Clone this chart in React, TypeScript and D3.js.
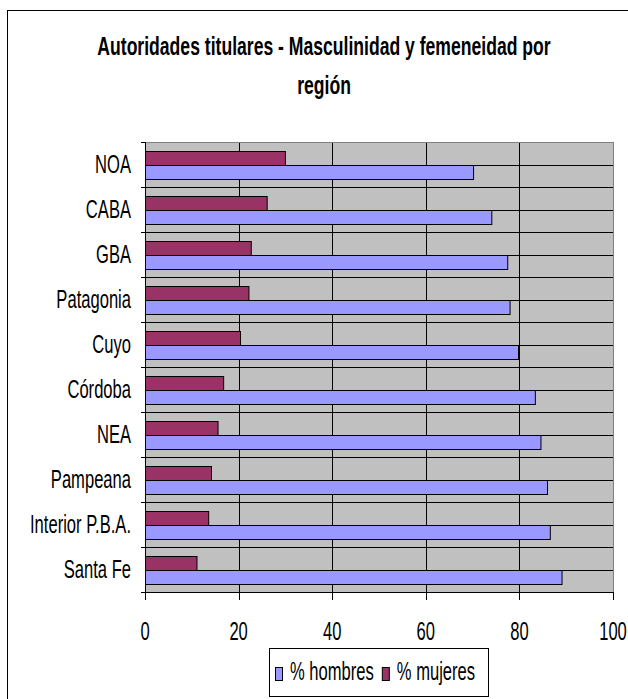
import * as React from 'react'
import * as d3 from 'd3'

const regions = [
  'NOA',
  'CABA',
  'GBA',
  'Patagonia',
  'Cuyo',
  'Córdoba',
  'NEA',
  'Pampeana',
  'Interior P.B.A.',
  'Santa Fe'
]
const hombres = [70.1, 74.0, 77.4, 77.9, 79.7, 83.3, 84.5, 85.9, 86.5, 89.0]
const mujeres = [29.9, 26.0, 22.6, 22.1, 20.3, 16.7, 15.5, 14.1, 13.5, 11.0]
const xTicks = [0, 20, 40, 60, 80, 100]
const seriesNames = ['% hombres', '% mujeres']
const seriesColors = ['#9999FF', '#993366']
const titleLines = [
  'Autoridades titulares - Masculinidad y femeneidad por',
  'región'
]

const WIDTH = 628
const HEIGHT = 699
const PLOT_LEFT = 145
const PLOT_RIGHT = 613
const PLOT_TOP = 142
const PLOT_BOTTOM = 592
const FONT = 'Liberation Sans, Arial, sans-serif'
const FONT_SIZE = 25.5
// the original text looks squeezed sideways
const TEXT_SX = 0.65
const TITLE_SX = 0.69

function drawChart(svgRef: React.RefObject<SVGSVGElement>) {
  const svg = d3.select(svgRef.current)
  svg.selectAll('*').remove()

  const x = d3.scaleLinear().domain([0, 100]).range([PLOT_LEFT, PLOT_RIGHT])
  const y = d3
    .scaleBand<string>()
    .domain(regions)
    .range([PLOT_TOP, PLOT_BOTTOM])
    .paddingInner(0)
    .paddingOuter(0)
  // excel draws the series reversed inside each category
  const inner = d3
    .scaleBand<string>()
    .domain([seriesNames[1], seriesNames[0]])
    .range([0, y.bandwidth()])
    .paddingInner(0)
    .paddingOuter(2 / 3)

  // outer frame (runs off the right / bottom of the picture)
  svg
    .append('rect')
    .attr('x', 7.5)
    .attr('y', 10.5)
    .attr('width', 700)
    .attr('height', 700)
    .attr('fill', '#fff')
    .attr('stroke', '#000')

  // title
  svg
    .append('g')
    .selectAll('text')
    .data(titleLines)
    .join('text')
    .attr('transform', (d, i) => `translate(324,${55 + i * 39}) scale(${TITLE_SX},1)`)
    .attr('text-anchor', 'middle')
    .attr('font-family', FONT)
    .attr('font-weight', 'bold')
    .attr('font-size', FONT_SIZE)
    .text(d => d)

  // plot area
  svg
    .append('rect')
    .attr('x', PLOT_LEFT)
    .attr('y', PLOT_TOP)
    .attr('width', PLOT_RIGHT - PLOT_LEFT)
    .attr('height', PLOT_BOTTOM - PLOT_TOP)
    .attr('fill', '#C0C0C0')

  const hLines: number[] = []
  regions.forEach(r => {
    hLines.push(y(r)!)
    hLines.push(y(r)! + y.bandwidth() / 2)
  })
  svg
    .append('g')
    .selectAll('line')
    .data(hLines)
    .join('line')
    .attr('x1', PLOT_LEFT)
    .attr('x2', PLOT_RIGHT)
    .attr('y1', d => Math.round(d) + 0.5)
    .attr('y2', d => Math.round(d) + 0.5)
    .attr('stroke', '#000')

  svg
    .append('g')
    .selectAll('line')
    .data(xTicks.slice(1, -1))
    .join('line')
    .attr('x1', d => Math.round(x(d)) + 0.5)
    .attr('x2', d => Math.round(x(d)) + 0.5)
    .attr('y1', PLOT_TOP)
    .attr('y2', PLOT_BOTTOM)
    .attr('stroke', '#000')

  svg
    .append('rect')
    .attr('x', PLOT_LEFT + 0.5)
    .attr('y', PLOT_TOP + 0.5)
    .attr('width', PLOT_RIGHT - PLOT_LEFT)
    .attr('height', PLOT_BOTTOM - PLOT_TOP)
    .attr('fill', 'none')
    .attr('stroke', '#808080')

  // bars
  const rows = regions.map((r, i) => ({ region: r, values: [hombres[i], mujeres[i]] }))
  const groups = svg
    .append('g')
    .selectAll('g')
    .data(rows)
    .join('g')
    .attr('transform', d => `translate(0,${y(d.region)})`)
  groups
    .selectAll('rect')
    .data(d => d.values.map((v, k) => ({ v, k })))
    .join('rect')
    .attr('x', x(0) + 0.5)
    .attr('y', d => Math.round(inner(seriesNames[d.k])!) + 0.5)
    .attr('width', d => x(d.v) - x(0))
    .attr('height', Math.round(inner.bandwidth()))
    .attr('fill', d => seriesColors[d.k])
    .attr('stroke', '#000')

  // axes
  svg
    .append('line')
    .attr('x1', PLOT_LEFT + 0.5)
    .attr('x2', PLOT_LEFT + 0.5)
    .attr('y1', PLOT_TOP)
    .attr('y2', PLOT_BOTTOM + 1)
    .attr('stroke', '#000')
  svg
    .append('line')
    .attr('x1', PLOT_LEFT)
    .attr('x2', PLOT_RIGHT + 1)
    .attr('y1', PLOT_BOTTOM + 0.5)
    .attr('y2', PLOT_BOTTOM + 0.5)
    .attr('stroke', '#000')

  const catTicks = regions.map(r => y(r)!).concat([PLOT_BOTTOM])
  svg
    .append('g')
    .selectAll('line')
    .data(catTicks)
    .join('line')
    .attr('x1', PLOT_LEFT - 4)
    .attr('x2', PLOT_LEFT)
    .attr('y1', d => Math.round(d) + 0.5)
    .attr('y2', d => Math.round(d) + 0.5)
    .attr('stroke', '#000')

  svg
    .append('g')
    .selectAll('line')
    .data(xTicks)
    .join('line')
    .attr('x1', d => Math.round(x(d)) + 0.5)
    .attr('x2', d => Math.round(x(d)) + 0.5)
    .attr('y1', PLOT_BOTTOM)
    .attr('y2', PLOT_BOTTOM + 8)
    .attr('stroke', '#000')

  svg
    .append('g')
    .selectAll('text')
    .data(regions)
    .join('text')
    .attr('transform', d => `translate(131,${y(d)! + y.bandwidth() / 2 + 8}) scale(${TEXT_SX},1)`)
    .attr('text-anchor', 'end')
    .attr('font-family', FONT)
    .attr('font-size', FONT_SIZE)
    .text(d => d)

  svg
    .append('g')
    .selectAll('text')
    .data(xTicks)
    .join('text')
    .attr('transform', d => `translate(${x(d)},640) scale(${TEXT_SX},1)`)
    .attr('text-anchor', 'middle')
    .attr('font-family', FONT)
    .attr('font-size', FONT_SIZE)
    .text(d => d)

  // legend
  const legend = svg.append('g')
  legend
    .append('rect')
    .attr('x', 269.5)
    .attr('y', 648.5)
    .attr('width', 219)
    .attr('height', 48)
    .attr('fill', '#fff')
    .attr('stroke', '#000')
  let lx = 275
  seriesNames.forEach((name, k) => {
    legend
      .append('rect')
      .attr('x', lx + 0.5)
      .attr('y', 667.5)
      .attr('width', 7)
      .attr('height', 13)
      .attr('fill', seriesColors[k])
      .attr('stroke', '#000')
    const t = legend
      .append('text')
      .attr('transform', `translate(${lx + 15},680) scale(${TEXT_SX},1)`)
      .attr('font-family', FONT)
      .attr('font-size', FONT_SIZE)
      .text(name)
    const w = (t.node() as SVGTextElement).getComputedTextLength() * TEXT_SX
    lx += 15 + w + 8
  })
}

export default function App() {
  const chartSvg = React.useRef<SVGSVGElement>(null)
  React.useEffect(() => {
    drawChart(chartSvg)
  }, [])
  return (
    <svg
      ref={chartSvg}
      width={WIDTH}
      height={HEIGHT}
      style={{ position: 'absolute', left: 0, top: 0 }}
    />
  )
}
